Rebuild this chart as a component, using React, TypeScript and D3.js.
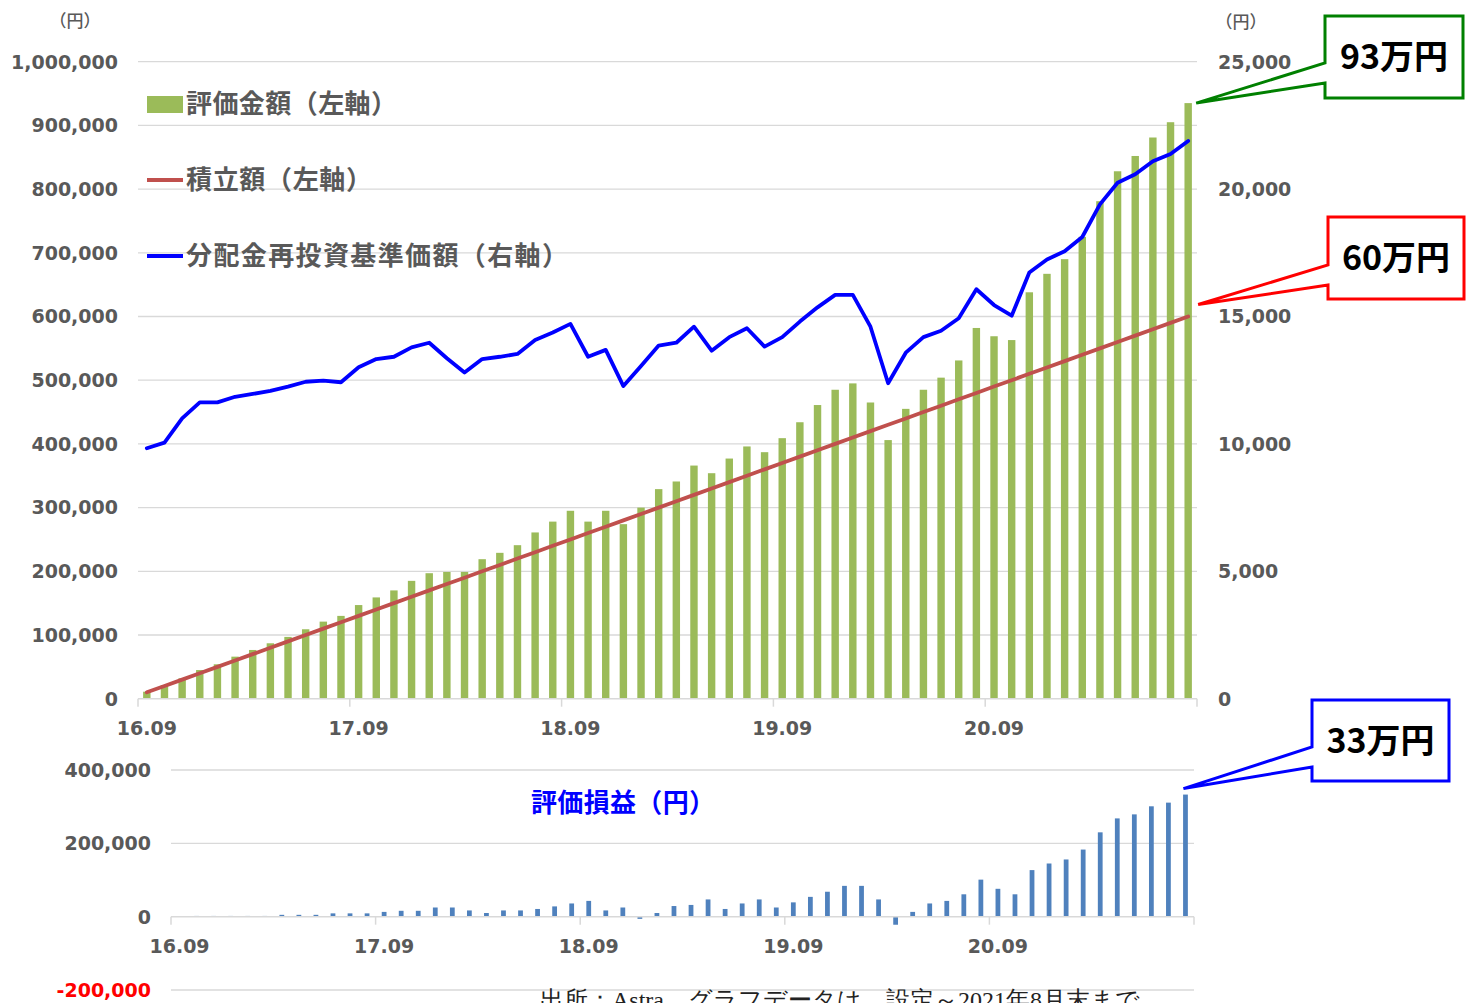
import React from 'react';
import * as d3 from 'd3';

// ---- Data (monthly, 2016.09 – 2021.08) ----
const months: string[] = [
  '16.09','16.10','16.11','16.12','17.01','17.02','17.03','17.04','17.05','17.06','17.07','17.08',
  '17.09','17.10','17.11','17.12','18.01','18.02','18.03','18.04','18.05','18.06','18.07','18.08',
  '18.09','18.10','18.11','18.12','19.01','19.02','19.03','19.04','19.05','19.06','19.07','19.08',
  '19.09','19.10','19.11','19.12','20.01','20.02','20.03','20.04','20.05','20.06','20.07','20.08',
  '20.09','20.10','20.11','20.12','21.01','21.02','21.03','21.04','21.05','21.06','21.07','21.08',
];

// 評価金額（左軸）
const valuation: number[] = [
  11000, 21500, 32000, 45000, 54000, 66000, 76500, 87000, 97000, 109000,
  121000, 130000, 147000, 159000, 170000, 185000, 197000, 199000, 199000, 219000,
  229000, 241000, 261000, 278000, 295000, 278000, 295000, 274000, 300000, 329000,
  341000, 366000, 354000, 377000, 396000, 387000, 409000, 434000, 461000, 485000,
  495000, 465000, 406000, 455000, 485000, 504000, 531000, 582000, 569000, 563000,
  638000, 667000, 690000, 725000, 781000, 828000, 852000, 881000, 905000, 935000,
];

// 積立額（左軸）
const invested: number[] = [
  10000, 20000, 30000, 40000, 50000, 60000, 70000, 80000, 90000, 100000,
  110000, 120000, 130000, 140000, 150000, 160000, 170000, 180000, 190000, 200000,
  210000, 220000, 230000, 240000, 250000, 260000, 270000, 280000, 290000, 300000,
  310000, 320000, 330000, 340000, 350000, 360000, 370000, 380000, 390000, 400000,
  410000, 420000, 430000, 440000, 450000, 460000, 470000, 480000, 490000, 500000,
  510000, 520000, 530000, 540000, 550000, 560000, 570000, 580000, 590000, 600000,
];

// 分配金再投資基準価額（右軸）
const nav: number[] = [
  9830, 10050, 11000, 11630, 11630, 11850, 11960, 12080, 12250, 12440,
  12480, 12420, 13010, 13330, 13420, 13790, 13970, 13360, 12800, 13330,
  13420, 13530, 14080, 14370, 14710, 13420, 13690, 12270, 13060, 13860,
  13970, 14600, 13660, 14190, 14540, 13820, 14190, 14800, 15360, 15850,
  15850, 14600, 12380, 13580, 14190, 14440, 14930, 16070, 15450, 15030,
  16730, 17240, 17560, 18120, 19400, 20250, 20580, 21090, 21380, 21890,
];

// 評価損益（円）
const profit: number[] = [
  1000, 2000, 2000, 2000, 2000, 2000, 5000, 5000, 5000, 9000,
  9000, 9000, 13000, 16000, 16000, 25000, 25000, 17000, 10000, 17000,
  17000, 21000, 28000, 36000, 43000, 17000, 25000, -6000, 10000, 29000,
  32000, 47000, 21000, 36000, 47000, 25000, 39000, 54000, 68000, 84000,
  84000, 47000, -22000, 13000, 36000, 43000, 61000, 101000, 76000, 61000,
  127000, 145000, 156000, 183000, 230000, 268000, 279000, 301000, 311000, 333000,
];

const xTickLabels: string[] = ['16.09', '17.09', '18.09', '19.09', '20.09'];
const leftTicks: number[] = [0, 100000, 200000, 300000, 400000, 500000, 600000, 700000, 800000, 900000, 1000000];
const rightTicks: number[] = [0, 5000, 10000, 15000, 20000, 25000];
const lowerTicks: number[] = [-200000, 0, 200000, 400000];

const legendItems = [
  { label: '評価金額（左軸）', kind: 'bar', width: 211 },
  { label: '積立額（左軸）', kind: 'red', width: 186 },
  { label: '分配金再投資基準価額（右軸）', kind: 'blue', width: 382 },
];

const GREEN = '#9BBB59';
const RED = '#C0504D';
const BLUE = '#0000FF';
const LBLUE = '#4F81BD';
const GRID = '#D9D9D9';
const TXT = '#595959';
const NUMFONT = '"DejaVu Sans", Verdana, sans-serif';
const JPFONT = '"Noto Sans CJK JP", "Noto Sans", sans-serif';

const fmt = (v: number) => d3.format(',')(v).replace('\u2212', '-');

function Callout({ x0, x1, y0, y1, b1, b2, tip, color, text }: any) {
  const d = `M${x0},${y0} L${x1},${y0} L${x1},${y1} L${x0},${y1} L${x0},${b2} L${tip[0]},${tip[1]} L${x0},${b1} Z`;
  return (
    <g>
      <path d={d} fill="#fff" stroke={color} strokeWidth={3} strokeLinejoin="miter" />
      <text x={(x0 + x1) / 2} y={(y0 + y1) / 2} dy="0.36em" textAnchor="middle"
        fontFamily={JPFONT} fontWeight={700} fontSize={34} fill="#000">{text}</text>
    </g>
  );
}

export default function App() {
  const W = 1466, H = 1003;
  const n = months.length;
  const idx = d3.range(n);

  // Main chart scales
  const x = d3.scaleBand<number>().domain(idx).range([138, 1197]).paddingInner(0.58).paddingOuter(0.29);
  const yL = d3.scaleLinear().domain([0, 1000000]).range([698.7, 61.7]);
  const yR = d3.scaleLinear().domain([0, 25000]).range([698.7, 61.7]);
  const step = x.step();
  const cx = (i: number) => (x(i) as number) + x.bandwidth() / 2;

  // Lower chart scales
  const lx = d3.scaleBand<number>().domain(idx).range([171, 1194]).paddingInner(0.72).paddingOuter(0.36);
  const ly = d3.scaleLinear().domain([-200000, 400000]).range([990, 770]);
  const lstep = lx.step();
  const lcx = (i: number) => (lx(i) as number) + lx.bandwidth() / 2;

  const redLine = d3.line<number>().x((_, i) => cx(i)).y((d) => yL(d))(invested) as string;
  const blueLine = d3.line<number>().x((_, i) => cx(i)).y((d) => yR(d))(nav) as string;

  const tickIdx = xTickLabels.map((l) => months.indexOf(l));
  const last = n - 1;

  return (
    <svg width={W} height={H} style={{ position: 'absolute', left: 0, top: 0, background: '#fff' }}>
      <rect x={0} y={0} width={W} height={H} fill="#fff" />

      {/* unit labels */}
      <text x={75} y={21} dy="0.35em" textAnchor="middle" fontFamily={JPFONT} fontWeight={500} fontSize={17} fill={TXT}>（円）</text>
      <text x={1241} y={22} dy="0.35em" textAnchor="middle" fontFamily={JPFONT} fontWeight={500} fontSize={17} fill={TXT}>（円）</text>

      {/* main gridlines */}
      {leftTicks.filter((t) => t > 0).map((t) => (
        <line key={'g' + t} x1={138} x2={1197} y1={yL(t)} y2={yL(t)} stroke={GRID} strokeWidth={1.3} />
      ))}

      {/* left axis labels */}
      {leftTicks.map((t) => (
        <text key={'l' + t} x={118} y={yL(t)} dy="0.36em" textAnchor="end" fontFamily={NUMFONT}
          fontWeight={700} fontSize={19} fill={TXT}>{fmt(t)}</text>
      ))}
      {/* right axis labels */}
      {rightTicks.map((t) => (
        <text key={'r' + t} x={1218} y={yR(t)} dy="0.36em" textAnchor="start" fontFamily={NUMFONT}
          fontWeight={700} fontSize={19} fill={TXT}>{fmt(t)}</text>
      ))}

      {/* bars */}
      {valuation.map((v, i) => (
        <rect key={'b' + i} x={x(i)} y={yL(v)} width={x.bandwidth()} height={yL(0) - yL(v)} fill={GREEN} />
      ))}

      {/* x axis */}
      <line x1={138} x2={1197} y1={yL(0)} y2={yL(0)} stroke={GRID} strokeWidth={1.5} />
      {[...tickIdx, n].map((ti) => (
        <line key={'t' + ti} x1={138 + ti * step} x2={138 + ti * step} y1={yL(0)} y2={yL(0) + 8} stroke={GRID} strokeWidth={1.5} />
      ))}
      {tickIdx.map((ti, k) => (
        <text key={'xl' + ti} x={cx(ti)} y={728} dy="0.36em" textAnchor="middle" fontFamily={NUMFONT}
          fontWeight={700} fontSize={19} fill={TXT}>{xTickLabels[k]}</text>
      ))}

      {/* lines */}
      <path d={redLine} fill="none" stroke={RED} strokeWidth={3.8} strokeLinejoin="round" strokeLinecap="round" />
      <path d={blueLine} fill="none" stroke={BLUE} strokeWidth={3.8} strokeLinejoin="round" strokeLinecap="round" />

      {/* legend */}
      {legendItems.map((it, k) => {
        const yy = [104, 180, 256][k];
        return (
          <g key={'lg' + k}>
            {it.kind === 'bar' ? (
              <rect x={147} y={yy - 8} width={36} height={17} fill={GREEN} />
            ) : (
              <line x1={147} x2={183} y1={yy} y2={yy} stroke={it.kind === 'red' ? RED : BLUE} strokeWidth={3.8} />
            )}
            <text x={186} y={yy} dy="0.36em" fontFamily={JPFONT} fontWeight={700} fontSize={26} fill={TXT}
              textLength={it.width} lengthAdjust="spacing">{it.label}</text>
          </g>
        );
      })}

      {/* lower chart gridlines */}
      {lowerTicks.filter((t) => t !== 0).map((t) => (
        <line key={'lg' + t} x1={171} x2={1194} y1={ly(t)} y2={ly(t)} stroke={GRID} strokeWidth={1.3} />
      ))}
      {lowerTicks.map((t) => (
        <text key={'ll' + t} x={151} y={ly(t)} dy="0.36em" textAnchor="end" fontFamily={NUMFONT}
          fontWeight={700} fontSize={19} fill={t < 0 ? '#FF0000' : TXT}>{fmt(t)}</text>
      ))}
      {profit.map((v, i) => (
        <rect key={'p' + i} x={lx(i)} y={ly(Math.max(0, v))} width={lx.bandwidth()}
          height={Math.abs(ly(v) - ly(0))} fill={LBLUE} />
      ))}
      <line x1={171} x2={1194} y1={ly(0)} y2={ly(0)} stroke={GRID} strokeWidth={1.5} />
      {[...tickIdx, n].map((ti) => (
        <line key={'lt' + ti} x1={171 + ti * lstep} x2={171 + ti * lstep} y1={ly(0)} y2={ly(0) + 8} stroke={GRID} strokeWidth={1.5} />
      ))}
      {tickIdx.map((ti, k) => (
        <text key={'lxl' + ti} x={lcx(ti)} y={946} dy="0.36em" textAnchor="middle" fontFamily={NUMFONT}
          fontWeight={700} fontSize={19} fill={TXT}>{xTickLabels[k]}</text>
      ))}
      <text x={531} y={803} dy="0.36em" textAnchor="start" fontFamily={JPFONT} fontWeight={700} fontSize={26} fill={BLUE}
        textLength={184} lengthAdjust="spacing">評価損益（円）</text>

      {/* callouts */}
      <Callout x0={1325} x1={1463} y0={16} y1={98} b1={63} b2={83}
        tip={[cx(last) + 8, yL(valuation[last])]} color="#008000" text="93万円" />
      <Callout x0={1328} x1={1464} y0={217} y1={299} b1={265} b2={285}
        tip={[cx(last) + 10, yL(invested[last]) - 12]} color="#FF0000" text="60万円" />
      <Callout x0={1312} x1={1449} y0={700} y1={781} b1={747} b2={767}
        tip={[lcx(last) - 2, ly(profit[last]) - 6]} color="#0000FF" text="33万円" />

      {/* source (cut at the bottom edge, as in the reference) */}
      <text x={540} y={1008} fontFamily="serif" fontSize={24} fill="#222">出所：Astra、グラフデータは、設定～2021年8月末まで</text>
    </svg>
  );
}
